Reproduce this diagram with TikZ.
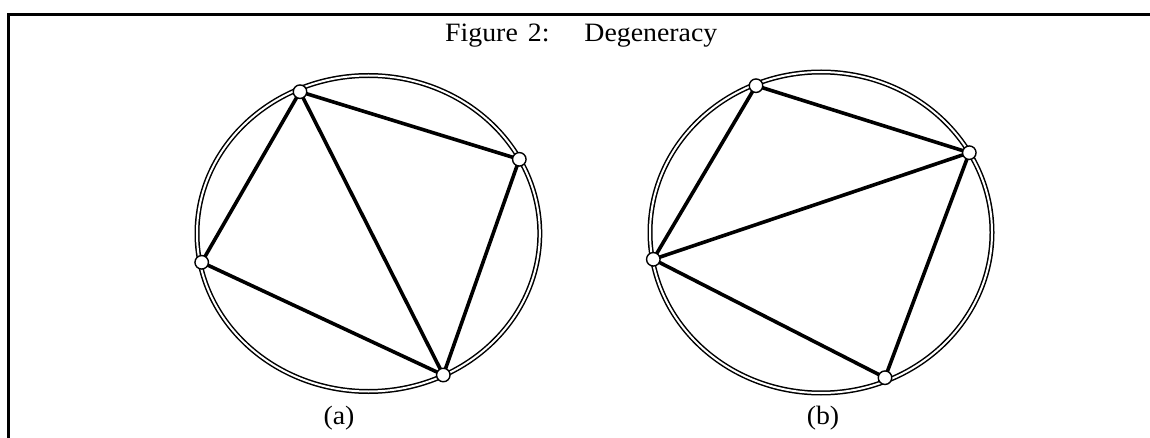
\documentclass[tikz,border=0pt]{standalone}
\usepackage{fontspec}
\setmainfont{Liberation Serif}[FakeStretch=1.05]
\begin{document}
\begin{tikzpicture}[x=1pt,y=-1pt,
  rim/.style={draw=black,line width=1.5pt,double=white,double distance=2pt},
  edge/.style={draw=black,line width=3.6pt,line cap=round},
  vtx/.style={circle,draw=black,fill=white,line width=1.4pt,minimum size=13.5pt,inner sep=0pt},
  lbl/.style={font=\fontsize{26.5}{30}\selectfont,inner sep=0pt}]
\useasboundingbox (0,0) rectangle (1150,438);
% frame
\coordinate (fl) at (8.5,438);
\coordinate (tl) at (8.5,14.5);
\coordinate (tr) at (1150,14.5);
\draw[line width=3pt,line cap=rect] (fl) -- (tl) -- (tr);
% title
\node[lbl,anchor=base west] (title) at (445,41.7) {Figure\hspace{10pt}2:\hspace{35pt}Degeneracy};
% (a)
\draw[rim] (368.4,233.5) ellipse [x radius=171.4,y radius=158];
\coordinate (at) at (300,91.7);
\coordinate (ar) at (519.3,159.3);
\coordinate (al) at (201.7,262.3);
\coordinate (ab) at (443.3,375);
\draw[edge] (al) -- (at) -- (ar) -- (ab) -- (al);
\draw[edge] (at) -- (ab);
\node[vtx] (vat) at (at) {};
\node[vtx] (var) at (ar) {};
\node[vtx] (val) at (al) {};
\node[vtx] (vab) at (ab) {};
\node[lbl,anchor=base] (la) at (339,424) {(a)};
% (b)
\draw[rim] (821,232.5) ellipse [x radius=171,y radius=160.5];
\coordinate (bt) at (756,85.7);
\coordinate (br) at (969.3,152.7);
\coordinate (bl) at (653.3,259.3);
\coordinate (bb) at (885,377.7);
\draw[edge] (bl) -- (bt) -- (br) -- (bb) -- (bl);
\draw[edge] (bl) -- (br);
\node[vtx] (vbt) at (bt) {};
\node[vtx] (vbr) at (br) {};
\node[vtx] (vbl) at (bl) {};
\node[vtx] (vbb) at (bb) {};
\node[lbl,anchor=base] (lb) at (823,424) {(b)};
\end{tikzpicture}
\end{document}
